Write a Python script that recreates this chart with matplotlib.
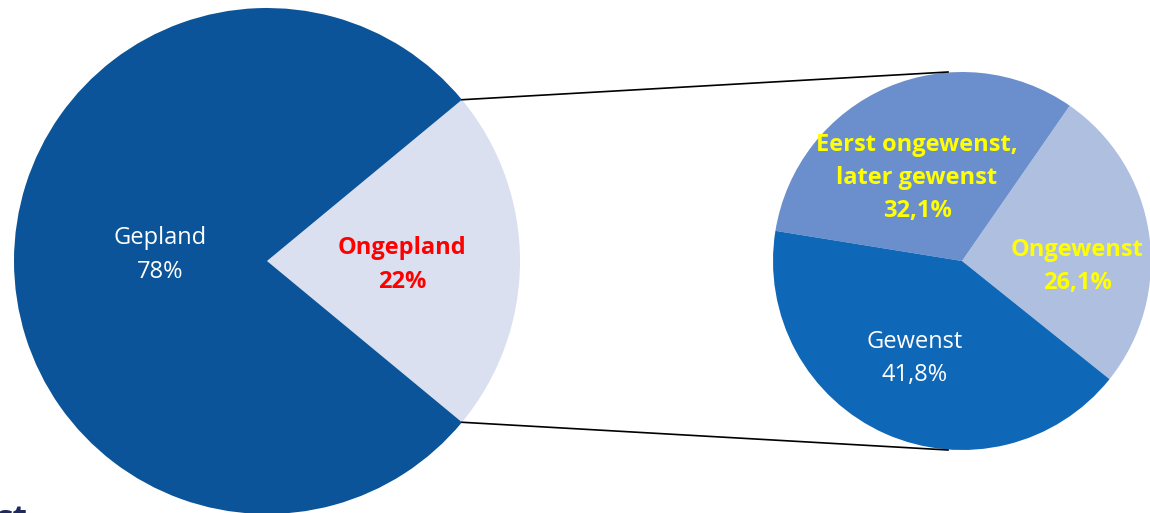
import numpy as np
import matplotlib.pyplot as plt

plt.rcParams['font.family'] = ['Open Sans', 'DejaVu Sans']

# main pie: planned vs unplanned
main_labels = ['Ongepland', 'Gepland']
main_values = [22, 78]
main_colors = ['#dae0f0', '#0b5499']

# breakdown of the unplanned slice
sub_labels = ['Ongewenst', 'Eerst ongewenst,\nlater gewenst', 'Gewenst']
sub_values = [26.1, 32.1, 41.8]
sub_colors = ['#afbfe0', '#6a8fcc', '#0f67b8']

W, H = 1150, 513
fig = plt.figure(figsize=(W / 100, H / 100), dpi=100)
ax = fig.add_axes([0, 0, 1, 1])

c1, r1 = (267, 252), 253
c2, r2 = (962, 252), 189

start1 = -main_values[0] / 100 * 360 / 2
w1, _ = ax.pie(main_values, colors=main_colors, startangle=start1, counterclock=True,
               center=c1, radius=r1, frame=True, wedgeprops=dict(linewidth=0))
w2, _ = ax.pie(sub_values, colors=sub_colors, startangle=-38.7, counterclock=True,
               center=c2, radius=r2, frame=True, wedgeprops=dict(linewidth=0))
ax.set_xlim(0, W)
ax.set_ylim(0, H)
ax.set_aspect('equal')
ax.axis('off')

# lines joining the unplanned slice to the breakdown pie
ongepland = w1[0]
for ang, end in [(ongepland.theta2, (948, 441)), (ongepland.theta1, (948, 63))]:
    x = c1[0] + r1 * np.cos(np.radians(ang))
    y = c1[1] + r1 * np.sin(np.radians(ang))
    ax.plot([x, end[0]], [y, end[1]], color='black', lw=1.2)


def pct(v):
    return f'{v:.1f}%'.replace('.', ',')


fs = 17
ls = 1.5
ax.text(160, 258, f'{main_labels[1]}\n{main_values[1]}%', color='white', fontsize=fs,
        ha='center', va='center', linespacing=ls)
ax.text(402, 248, f'{main_labels[0]}\n{main_values[0]}%', color='#ff0000', fontsize=fs,
        fontweight='bold', ha='center', va='center', linespacing=ls)

ax.text(917, 335, f'{sub_labels[1]}\n{pct(sub_values[1])}', color='#ffff00',
        fontsize=fs, fontweight='bold', ha='center', va='center', linespacing=ls)
ax.text(1077, 246, f'{sub_labels[0]}\n{pct(sub_values[0])}', color='#ffff00',
        fontsize=fs, fontweight='bold', ha='center', va='center', linespacing=ls)
ax.text(915, 154, f'{sub_labels[2]}\n{pct(sub_values[2])}', color='white',
        fontsize=fs, ha='center', va='center', linespacing=ls)

# heading running off the bottom edge
ax.text(-4, -6, 'st', color='#1f2a5c', fontsize=24, fontweight='bold', ha='left', va='center')

fig.savefig('out.png', dpi=100)
